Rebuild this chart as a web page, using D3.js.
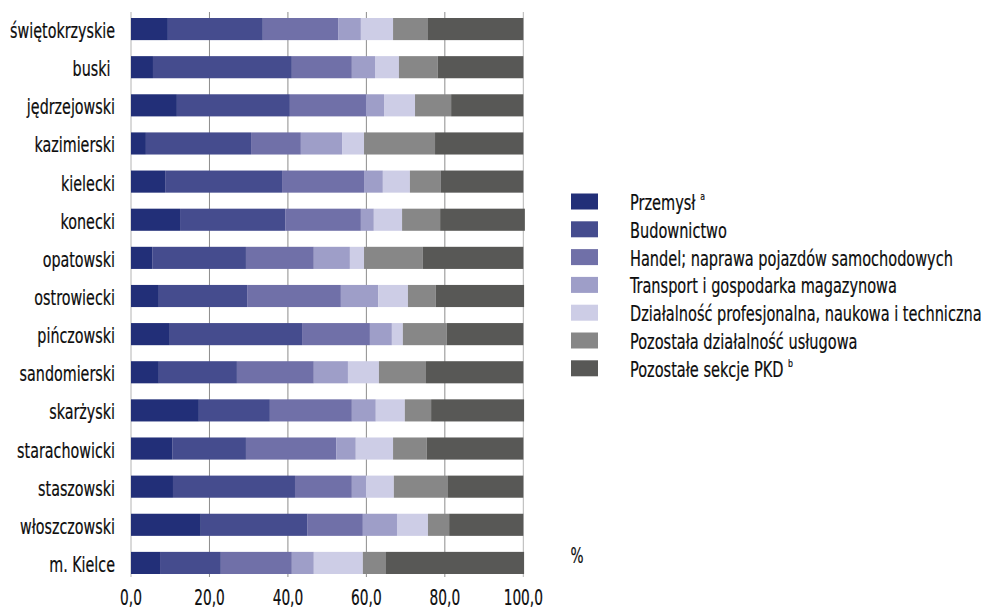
<!DOCTYPE html>
<html><head><meta charset="utf-8">
<script src="https://cdn.jsdelivr.net/npm/d3@7"></script>
<style>
body{margin:0;background:#fff;}
svg text{font-family:"DejaVu Sans Condensed","DejaVu Sans",sans-serif;font-stretch:condensed;fill:#0d0d0d;stroke:#0d0d0d;stroke-width:0.2px;white-space:pre;}
</style></head>
<body><svg id="c" width="986" height="609"></svg>
<script>
const categories = ["świętokrzyskie","buski ","jędrzejowski","kazimierski","kielecki","konecki","opatowski","ostrowiecki","pińczowski","sandomierski","skarżyski","starachowicki","staszowski","włoszczowski","m. Kielce"];
const seriesNames = ["Przemysł","Budownictwo","Handel; naprawa pojazdów samochodowych","Transport i gospodarka magazynowa","Działalność profesjonalna, naukowa i techniczna","Pozostała działalność usługowa","Pozostałe sekcje PKD"];
const seriesSup = ["a","","","","","","b"];
const colors = ["#222f78","#454c8e","#7070a8","#9e9ec8","#cdcde6","#878787","#585856"];
const przemysl   = [9.4, 5.6,11.7, 3.8, 8.7,12.5, 5.4, 7.1, 9.9, 7.1,17.3,10.5,10.7,17.8, 7.4];
const budownictwo= [24.2,35.4,28.8,26.8,29.8,26.8,23.9,22.5,33.7,19.9,18.1,18.8,31.1,27.1,15.5];
const handel     = [19.2,15.3,19.4,12.7,20.9,19.3,17.3,23.9,17.3,19.6,20.9,23.0,14.5,14.2,18.1];
const transport  = [5.8, 5.9, 4.6,10.5, 4.8, 3.3, 9.2, 9.5, 5.6, 8.7, 6.1, 5.0, 3.6, 8.7, 5.6];
const dzialalnosc= [8.2, 6.1, 7.9, 5.6, 6.9, 7.2, 3.6, 7.6, 2.8, 7.9, 7.4, 9.5, 7.1, 7.9,12.5];
const uslugowa   = [8.9, 9.9, 9.2,18.1, 7.9, 9.7,15.0, 7.1,11.2,12.0, 6.7, 8.6,13.8, 5.4, 5.9];
const pozostale  = [24.3,21.8,18.4,22.5,21.0,21.6,25.6,22.5,19.5,24.8,23.7,24.6,19.2,18.9,35.2];
const tickValues = [0,20,40,60,80,100];
const tickLabels = ["0,0","20,0","40,0","60,0","80,0","100,0"];
const unitLabel = "%";

const seriesValues = [przemysl,budownictwo,handel,transport,dzialalnosc,uslugowa,pozostale];
const rows = categories.map((c,i)=>{const o={cat:c}; seriesNames.forEach((s,j)=>o[s]=seriesValues[j][i]); return o;});
const stack = d3.stack().keys(seriesNames)(rows);

const svg = d3.select("#c");
const x = d3.scaleLinear().domain([0,100]).range([131,523.3]);
const y = d3.scaleBand().domain(categories).range([10,582]).paddingInner(0.42).paddingOuter(0.21);

// horizontal compression so the font matches the narrow reference face
const FS = 20.5;
function scaleFor(str, target){
  const p = svg.append("text").attr("font-size",FS).text(str);
  const w = p.node().getComputedTextLength(); p.remove();
  return target / w;
}
const kLeg = scaleFor(seriesNames[4], 352);
const kCat = scaleFor(categories[0], 105);
const kAx  = scaleFor(tickLabels[1], 30.6);

function label(g, px, py, txt, anchor, k){
  const t = g.append("text").attr("transform",`translate(${px},${py}) scale(${k},1)`)
    .attr("font-size",FS).attr("text-anchor",anchor||"start");
  return t.text(txt);
}

// grid
svg.append("g").selectAll("line").data(tickValues).join("line")
  .attr("x1",d=>x(d)).attr("x2",d=>x(d)).attr("y1",12).attr("y2",577)
  .attr("stroke",d=>(d===0||d===100)?"#b4b4b4":"#8c8c8c").attr("stroke-width",1);

// bars
svg.append("g").selectAll("g").data(stack).join("g").attr("fill",(d,i)=>colors[i])
  .selectAll("rect").data(d=>d).join("rect")
  .attr("x",d=>x(d[0])).attr("width",d=>x(d[1])-x(d[0]))
  .attr("y",d=>y(d.data.cat)).attr("height",y.bandwidth());

// category labels
const cg = svg.append("g");
categories.forEach(c=>label(cg,115,y(c)+y.bandwidth()/2+9,c,"end",kCat));

// x axis labels
const ag = svg.append("g");
tickValues.forEach((v,i)=>label(ag,x(v),605,tickLabels[i],"middle",kAx));

// unit
label(svg,577,563,unitLabel,"middle",kAx);

// legend
const lg = svg.append("g");
seriesNames.forEach((s,i)=>{
  const cy = 201.5 + i*27.8;
  lg.append("rect").attr("x",571).attr("y",cy-8).attr("width",27).attr("height",16).attr("fill",colors[i]);
  const t = label(lg,630,cy+8.5,"", "start",kLeg);
  t.append("tspan").text(s);
  if(seriesSup[i]){ t.append("tspan").attr("font-size",11).attr("dx",6).attr("dy",-10).text(seriesSup[i]); }
});
</script></body></html>
